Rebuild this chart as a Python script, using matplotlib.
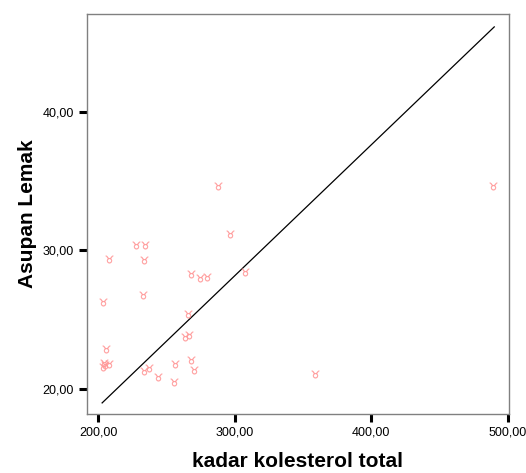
import matplotlib
matplotlib.use("Agg")
import matplotlib.pyplot as plt

# kadar kolesterol total vs asupan lemak
kolesterol = [287.7, 489.0, 296.3, 227.9, 234.5, 208.1, 233.6, 267.8, 274.5,
              280.1, 307.5, 232.6, 203.7, 265.9, 263.4, 266.9, 205.6, 203.5,
              204.5, 205.2, 208.0, 267.8, 256.3, 237.0, 233.8, 270.0, 243.6,
              255.3, 359.0]
lemak = [34.6, 34.6, 31.2, 30.35, 30.35, 29.4, 29.3, 28.3, 28.0,
         28.1, 28.4, 26.8, 26.3, 25.4, 23.75, 23.9, 22.9, 21.6,
         21.9, 21.7, 21.8, 22.1, 21.8, 21.5, 21.3, 21.4, 20.85,
         20.5, 21.1]

# garis acuan
garis_x = [203.0, 490.0]
garis_y = [19.0, 46.1]

xticks = [200, 300, 400, 500]
yticks = [20, 30, 40]

plt.rcParams["font.family"] = ["Liberation Sans", "DejaVu Sans"]

fig = plt.figure(figsize=(5.26, 4.73), dpi=100)
ax = fig.add_axes([0.1648, 0.1247, 0.8034, 0.8463])

ax.plot(garis_x, garis_y, color="black", linewidth=0.9)
ax.scatter(kolesterol, lemak, marker="$\u2649$", s=30, color="#ff9a9a",
           linewidths=0.2, zorder=3)

ax.set_xlim(191.7, 501.0)
ax.set_ylim(18.2, 47.05)
ax.set_xticks(xticks)
ax.set_yticks(yticks)
ax.set_xticklabels([f"{v:.2f}".replace(".", ",") for v in xticks])
ax.set_yticklabels([f"{v:.2f}".replace(".", ",") for v in yticks])
ax.tick_params(axis="both", direction="out", length=6, width=2.2,
               color="black", labelsize=9, pad=3)

for s in ax.spines.values():
    s.set_color("#808080")
    s.set_linewidth(1.0)

ax.set_xlabel("kadar kolesterol total", fontsize=15, fontweight="bold",
              labelpad=10)
ax.set_ylabel("Asupan Lemak", fontsize=15, fontweight="bold", labelpad=4)

fig.savefig("out.png", dpi=100)
